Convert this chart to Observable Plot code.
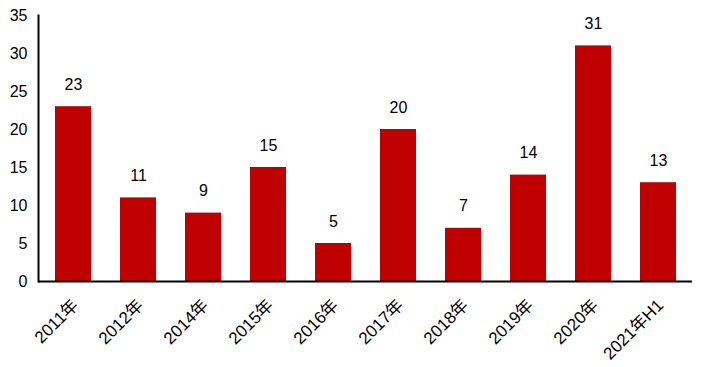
<!DOCTYPE html>
<html>
<head>
<meta charset="utf-8">
<script src="https://cdn.jsdelivr.net/npm/d3@7"></script>
<script src="https://cdn.jsdelivr.net/npm/@observablehq/plot@0.6"></script>
<style>
  html, body { margin: 0; padding: 0; background: #fff; }
  #chart svg { display: block; }
</style>
</head>
<body>
<div id="chart"></div>
<script>
const categories = ["2011年", "2012年", "2014年", "2015年", "2016年", "2017年", "2018年", "2019年", "2020年", "2021年H1"];
const values = [23, 11, 9, 15, 5, 20, 7, 14, 31, 13];
const yTicks = [0, 5, 10, 15, 20, 25, 30, 35];

const data = categories.map((c, i) => ({category: c, value: values[i]}));
const font = "Liberation Sans, 'Noto Sans CJK SC', sans-serif";

const chart = Plot.plot({
  width: 705,
  height: 367,
  marginTop: 15,
  marginBottom: 86,
  marginLeft: 38,
  marginRight: 13,
  style: {fontFamily: font, fontSize: "16px", color: "#000", background: "#fff"},
  x: {domain: categories, paddingInner: 0.45, paddingOuter: 0.245, label: null},
  y: {domain: [0, 35], label: null},
  marks: [
    Plot.barY(data, {x: "category", y: "value", fill: "#C00000"}),
    Plot.text(data, {x: "category", y: "value", text: d => String(d.value), dy: -22, fontSize: 16, fill: "#000"}),
    Plot.axisY({ticks: yTicks, tickSize: 0, tickPadding: 11, fontSize: 16, label: null}),
    Plot.axisX({tickSize: 0, tickRotate: -45, tickPadding: 21, fontSize: 17, label: null, dx: 2}),
    Plot.frame({anchor: "left", stroke: "#000", strokeWidth: 2}),
    Plot.ruleY([0], {stroke: "#000", strokeWidth: 2})
  ]
});
document.getElementById("chart").appendChild(chart);
</script>
</body>
</html>
